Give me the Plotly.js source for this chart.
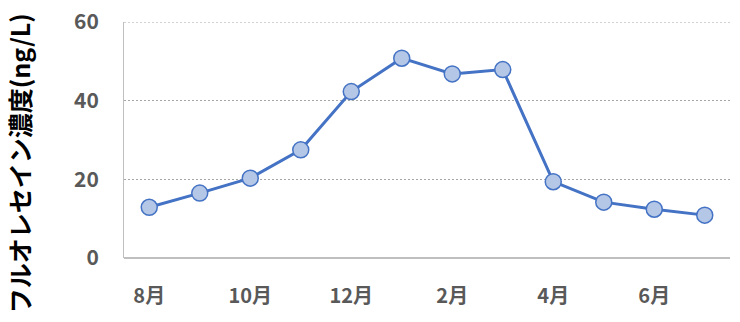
<!DOCTYPE html>
<html>
<head>
<meta charset="utf-8">
<script src="https://cdn.plot.ly/plotly-3.0.1.min.js"></script>
<style>
  html, body { margin: 0; padding: 0; background: #fff; }
  #chart { width: 740px; height: 322px; }
</style>
</head>
<body>
<div id="chart"></div>
<script>
// Monthly fluorescein concentration (ng/L), August through July
const months = ['8月', '9月', '10月', '11月', '12月', '1月', '2月', '3月', '4月', '5月', '6月', '7月'];
const concentration = [12.9, 16.5, 20.3, 27.5, 42.3, 50.8, 46.8, 47.9, 19.4, 14.2, 12.4, 10.9];
const monthTicks = ['8月', '10月', '12月', '2月', '4月', '6月'];
const yTicks = [0, 20, 40, 60];
const yMax = 60;
const yTitle = 'フルオレセイン濃度(ng/L)';

const FONT = '"Noto Sans CJK JP", "Noto Sans", sans-serif';
const GRID = { color: '#A6A6A6', width: 1, dash: '2px,2px' };

const trace = {
  x: months,
  y: concentration,
  type: 'scatter',
  mode: 'lines+markers',
  line: { color: '#4472C4', width: 3 },
  marker: {
    size: 16,
    color: '#B4C7E7',
    line: { color: '#4472C4', width: 1.5 }
  },
  hoverinfo: 'skip'
};

const layout = {
  width: 740,
  height: 322,
  margin: { l: 124, r: 10, t: 22, b: 64 },
  paper_bgcolor: '#ffffff',
  plot_bgcolor: '#ffffff',
  showlegend: false,
  font: { family: FONT },
  xaxis: {
    type: 'category',
    categoryorder: 'array',
    categoryarray: months,
    range: [-0.5, months.length - 0.5],
    tickmode: 'array',
    tickvals: monthTicks,
    ticktext: monthTicks,
    ticks: 'outside',
    ticklen: 20,
    tickcolor: 'rgba(0,0,0,0)',
    tickfont: { family: FONT, size: 20, color: '#595959', weight: 'bold' },
    showgrid: false,
    showline: false,
    zeroline: false,
    fixedrange: true
  },
  yaxis: {
    range: [0, yMax],
    tickmode: 'array',
    tickvals: yTicks,
    ticks: 'outside',
    ticklen: 20,
    tickcolor: 'rgba(0,0,0,0)',
    tickfont: { family: FONT, size: 21, color: '#595959', weight: 'bold' },
    showgrid: true,
    gridcolor: GRID.color,
    gridwidth: GRID.width,
    griddash: GRID.dash,
    showline: true,
    linecolor: '#BFBFBF',
    linewidth: 1,
    zeroline: true,
    zerolinecolor: '#BFBFBF',
    zerolinewidth: 2,
    fixedrange: true
  },
  // gridline at the top of the range (Plotly skips the one on the plot edge)
  shapes: [{
    type: 'line',
    layer: 'below',
    xref: 'paper', x0: 0, x1: 1,
    yref: 'y', y0: yMax, y1: yMax,
    line: { color: GRID.color, width: GRID.width, dash: GRID.dash }
  }],
  annotations: [{
    text: yTitle,
    textangle: -90,
    xref: 'paper',
    yref: 'paper',
    x: -0.174,
    y: 0.40,
    xanchor: 'center',
    yanchor: 'middle',
    showarrow: false,
    font: { family: FONT, size: 25, color: '#000000', weight: 'bold' }
  }]
};

Plotly.newPlot('chart', [trace], layout, { staticPlot: true, displayModeBar: false });
</script>
</body>
</html>
